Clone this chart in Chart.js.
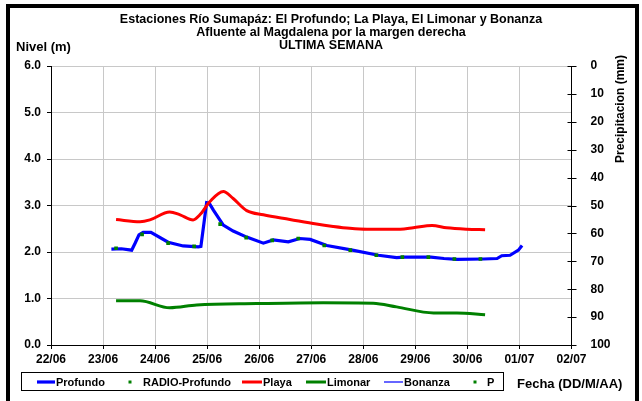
<!DOCTYPE html>
<html><head><meta charset="utf-8">
<script src="https://cdn.jsdelivr.net/npm/chart.js@4.4.1/dist/chart.umd.min.js"></script>
<style>html,body{margin:0;padding:0;background:#fff;overflow:hidden}#wrap{position:absolute;left:0;top:0;width:642px;height:401px}</style>
</head><body><div id="wrap"><canvas id="c" width="642" height="401"></canvas></div>
<script>
// ---- data (x = days since 22/06 00:00) ----
const dayLabels = ["22/06","23/06","24/06","25/06","26/06","27/06","28/06","29/06","30/06","01/07","02/07"];
const titleLines = ["Estaciones Río Sumapáz: El Profundo; La Playa, El Limonar y Bonanza","Afluente al Magdalena por la margen derecha","ULTIMA SEMANA"];

const profundoDays   = [1.16,1.35,1.55,1.62,1.69,1.77,1.92,2.25,2.54,2.83,2.88,2.99,3.04,3.12,3.31,3.50,3.76,4.08,4.27,4.56,4.78,4.98,5.30,5.79,6.29,6.64,6.79,7.30,7.55,7.80,8.31,8.57,8.66,8.82,8.98,9.05];
const profundoLevels = [2.06,2.07,2.04,2.20,2.37,2.42,2.42,2.21,2.13,2.11,2.12,3.06,3.05,2.90,2.58,2.45,2.32,2.19,2.26,2.22,2.29,2.27,2.14,2.04,1.93,1.88,1.89,1.89,1.86,1.84,1.85,1.86,1.92,1.93,2.04,2.14];

const radioDays   = [1.25,1.75,2.25,2.75,3.25,3.75,4.25,4.75,5.25,5.75,6.25,6.75,7.25,7.75,8.25];
const radioLevels = [2.08,2.38,2.19,2.12,2.60,2.31,2.25,2.29,2.14,2.04,1.93,1.89,1.89,1.85,1.85];

const playaDays   = [1.25,1.71,1.90,2.28,2.48,2.73,2.86,3.05,3.31,3.50,3.76,4.08,4.59,5.10,5.42,5.74,6.07,6.71,6.96,7.32,7.60,7.99,8.34];
const playaLevels = [2.70,2.65,2.69,2.86,2.80,2.69,2.80,3.08,3.30,3.15,2.89,2.80,2.70,2.60,2.55,2.51,2.49,2.49,2.52,2.57,2.52,2.49,2.48];

const limonarDays   = [1.25,1.71,2.28,2.80,3.95,5.23,6.19,6.64,7.35,7.80,8.34];
const limonarLevels = [0.95,0.95,0.80,0.86,0.89,0.91,0.90,0.82,0.69,0.69,0.65];

const bonanzaDays = [], bonanzaLevels = [];
const pDays = [], pValues = [];

const pts = (xs, ys) => xs.map((x, i) => ({x: x, y: ys[i]}));

const FONT = '"Liberation Sans", Arial, sans-serif';

const decor = {
  id: 'decor',
  beforeDraw(chart) {
    const c = chart.ctx;
    c.save();
    c.fillStyle = '#fff';
    c.fillRect(0, 0, chart.width, chart.height);
    c.restore();
  },
  afterDraw(chart) {
    const c = chart.ctx;
    c.save();
    // outer frame
    c.strokeStyle = '#000';
    c.lineWidth = 4;
    c.beginPath();
    c.moveTo(8, 410); c.lineTo(8, 6); c.lineTo(637, 6); c.lineTo(637, 410);
    c.stroke();

    // titles
    c.fillStyle = '#000';
    c.textAlign = 'center';
    c.textBaseline = 'middle';
    c.font = 'bold 12.5px ' + FONT;
    c.fillText(titleLines[0], 331, 20);
    c.fillText(titleLines[1], 331, 33);
    c.fillText(titleLines[2], 331, 45.5);

    // axis titles
    c.font = 'bold 13px ' + FONT;
    c.textAlign = 'left';
    c.fillText('Nivel (m)', 16, 47);
    c.fillText('Fecha (DD/M/AA)', 517, 384);

    c.save();
    c.translate(621, 109);
    c.rotate(-Math.PI / 2);
    c.textAlign = 'center';
    c.font = 'bold 12px ' + FONT;
    c.fillText('Precipitacion (mm)', 0, 0);
    c.restore();

    // right axis crossing tick marks
    const y2 = chart.scales.y2;
    c.strokeStyle = '#000';
    c.lineWidth = 1;
    y2.ticks.forEach(t => {
      const py = Math.round(y2.getPixelForValue(t.value)) + 0.5;
      c.beginPath();
      c.moveTo(y2.left - 4, py); c.lineTo(y2.left + 5, py);
      c.stroke();
    });

    // legend box
    c.strokeStyle = '#000';
    c.lineWidth = 1;
    c.strokeRect(21.5, 372.5, 482, 18);
    c.font = 'bold 11px ' + FONT;
    c.textAlign = 'left';
    c.textBaseline = 'middle';
    const ly = 382;
    const ds = chart.data.datasets;
    const items = [
      {i: 0, kind: 'line', x0: 37, x1: 55, tx: 56},
      {i: 1, kind: 'dot',  x0: 130, tx: 143},
      {i: 2, kind: 'line', x0: 242, x1: 262, tx: 263},
      {i: 3, kind: 'line', x0: 306, x1: 326, tx: 327},
      {i: 4, kind: 'line', x0: 384, x1: 403, tx: 404},
      {i: 5, kind: 'dot',  x0: 475, tx: 487}
    ];
    items.forEach(it => {
      const d = ds[it.i];
      if (it.kind === 'line') {
        c.strokeStyle = d.borderColor;
        c.lineWidth = d.borderWidth;
        c.beginPath(); c.moveTo(it.x0, ly); c.lineTo(it.x1, ly); c.stroke();
      } else {
        c.fillStyle = d.backgroundColor;
        c.fillRect(it.x0 - 1.5, ly - 1.5, 3, 3);
      }
      c.fillStyle = '#000';
      c.fillText(d.label, it.tx, ly + 0.5);
    });
    c.restore();
  }
};

const tickFont = {family: FONT, size: 12, weight: 'bold'};

new Chart(document.getElementById('c'), {
  type: 'line',
  data: {
    datasets: [
      {label: 'Profundo', order: 5, data: pts(profundoDays, profundoLevels), borderColor: '#0000FF', backgroundColor: '#0000FF', borderWidth: 3.2, pointRadius: 0, tension: 0, yAxisID: 'y'},
      {label: 'RADIO-Profundo', order: 4, data: pts(radioDays, radioLevels), showLine: false, pointStyle: 'rect', pointRadius: 2.6, borderWidth: 0, backgroundColor: '#008000', borderColor: '#008000', yAxisID: 'y'},
      {label: 'Playa', order: 3, data: pts(playaDays, playaLevels), borderColor: '#FF0000', backgroundColor: '#FF0000', borderWidth: 3, pointRadius: 0, cubicInterpolationMode: 'monotone', yAxisID: 'y'},
      {label: 'Limonar', order: 2, data: pts(limonarDays, limonarLevels), borderColor: '#008000', backgroundColor: '#008000', borderWidth: 3, pointRadius: 0, cubicInterpolationMode: 'monotone', yAxisID: 'y'},
      {label: 'Bonanza', order: 1, data: pts(bonanzaDays, bonanzaLevels), borderColor: '#3333FF', backgroundColor: '#3333FF', borderWidth: 1.5, pointRadius: 0, yAxisID: 'y'},
      {label: 'P', order: 0, data: pts(pDays, pValues), showLine: false, pointStyle: 'rect', pointRadius: 2.6, borderWidth: 0, backgroundColor: '#008000', borderColor: '#008000', yAxisID: 'y2'}
    ]
  },
  options: {
    responsive: false,
    animation: false,
    events: [],
    layout: {padding: {left: 0, right: 0, top: 66, bottom: 36}},
    plugins: {legend: {display: false}, title: {display: false}, tooltip: {enabled: false}},
    scales: {
      x: {
        type: 'linear', min: 0, max: 10,
        ticks: {stepSize: 1, autoSkip: false, maxRotation: 0, color: '#000', font: tickFont, padding: 3,
          callback: v => dayLabels[v] !== undefined ? dayLabels[v] : ''},
        grid: {color: '#c8c8c8', tickColor: '#000', tickLength: 4, lineWidth: 1},
        border: {color: '#000', width: 1},
        afterFit: s => { s.height = 20; }
      },
      y: {
        position: 'left', min: 0, max: 6,
        ticks: {stepSize: 1, color: '#000', font: tickFont, padding: 6, callback: v => Number(v).toFixed(1)},
        grid: {color: '#c8c8c8', tickColor: '#000', tickLength: 4},
        border: {color: '#000', width: 1},
        afterFit: s => { s.width = 51; }
      },
      y2: {
        position: 'right', min: 0, max: 100, reverse: true,
        ticks: {stepSize: 10, color: '#000', font: tickFont, padding: 11},
        grid: {display: false, drawOnChartArea: false},
        border: {color: '#000', width: 1},
        afterFit: s => { s.width = 70.5; }
      }
    }
  },
  plugins: [decor]
});
</script></body></html>
